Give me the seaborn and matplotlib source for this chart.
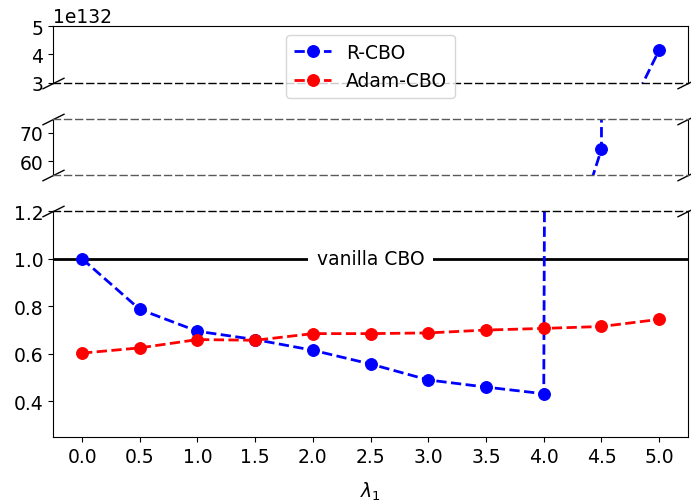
import numpy as np
import matplotlib
matplotlib.use('Agg')
import matplotlib.pyplot as plt
import seaborn as sns

lam = [0.0, 0.5, 1.0, 1.5, 2.0, 2.5, 3.0, 3.5, 4.0, 4.5, 5.0]
r_cbo = [1.0, 0.787, 0.695, 0.66, 0.615, 0.557, 0.49, 0.46, 0.432, 64.2, 4.15e132]
adam_cbo = [0.603, 0.625, 0.66, 0.657, 0.685, 0.685, 0.688, 0.70, 0.707, 0.715, 0.745]

plt.rcParams['font.size'] = 13.5

fig, (ax_top, ax_mid, ax_bot) = plt.subplots(
	3, 1, sharex=True, figsize=(6.91, 5.02), dpi=100,
	gridspec_kw=dict(height_ratios=[1, 1, 4], hspace=0.32))
fig.subplots_adjust(left=0.077, right=0.9957, top=0.946, bottom=0.1275)

for i, ax in enumerate([ax_top, ax_mid, ax_bot]):
	sns.lineplot(x=lam, y=r_cbo, ax=ax, color='blue', linestyle='--', lw=2,
		marker='o', markersize=8.5, mec='blue', errorbar=None, legend=False,
		label='R-CBO' if i == 0 else None)
	sns.lineplot(x=lam, y=adam_cbo, ax=ax, color='red', linestyle='--', lw=2,
		marker='o', markersize=8.5, mec='red', errorbar=None, legend=False,
		label='Adam-CBO' if i == 0 else None)

ax_top.set_ylim(3e132, 5e132)
ax_top.set_yticks([3e132, 4e132, 5e132])
ax_mid.set_ylim(55, 75)
ax_mid.set_yticks([60, 70])
ax_bot.set_ylim(0.25, 1.2)
ax_bot.set_yticks([0.4, 0.6, 0.8, 1.0, 1.2])
ax_bot.set_xticks(lam)
ax_bot.set_xlabel(r'$\lambda_1$', labelpad=10)

for ax in [ax_top, ax_mid]:
	ax.tick_params(axis='x', bottom=False, labelbottom=False)

dash = (0, (5, 3))
ax_top.spines['bottom'].set_linestyle(dash)
ax_mid.spines['top'].set_linestyle(dash)
ax_mid.spines['bottom'].set_linestyle(dash)
ax_mid.spines['top'].set_color('0.35')
ax_mid.spines['bottom'].set_color('0.35')
ax_bot.spines['top'].set_linestyle(dash)
for sp in [ax_top.spines['bottom'], ax_mid.spines['top'], ax_mid.spines['bottom'], ax_bot.spines['top']]:
	sp.set_linewidth(1)

# break marks
d = 0.5
kw = dict(marker=[(-1, -d), (1, d)], markersize=16, linestyle='none',
	color='k', mec='k', mew=1, clip_on=False)
ax_top.plot([0, 1], [0, 0], transform=ax_top.transAxes, **kw)
ax_mid.plot([0, 1, 0, 1], [0, 0, 1, 1], transform=ax_mid.transAxes, **kw)
ax_bot.plot([0, 1], [1, 1], transform=ax_bot.transAxes, **kw)

# vanilla CBO reference
ax_bot.axhline(1.0, color='k', lw=2, zorder=1)
ax_bot.text(2.5, 1.0, 'vanilla CBO', ha='center', va='center',
	bbox=dict(facecolor='white', edgecolor='none', pad=6.5), zorder=2)

ax_top.legend(loc='upper center')

fig.savefig('out.png', dpi=100)
